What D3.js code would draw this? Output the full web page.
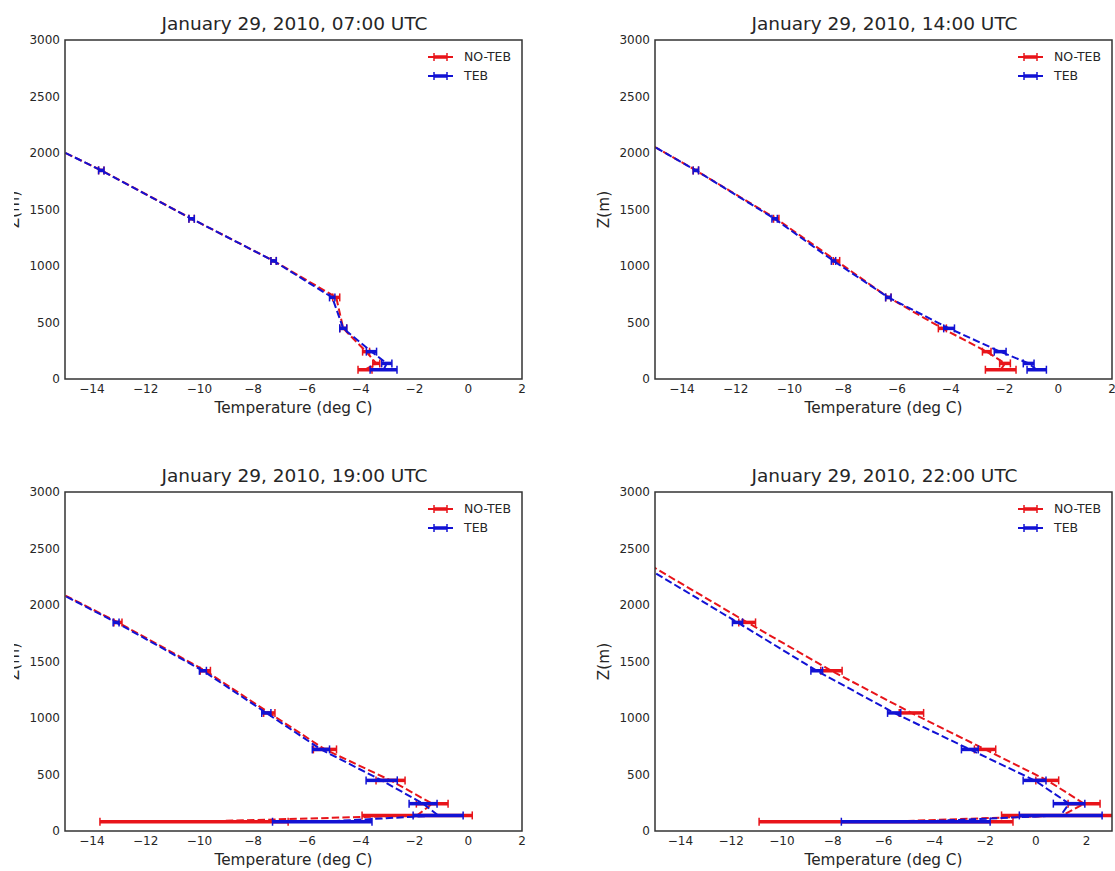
<!DOCTYPE html>
<html><head><meta charset="utf-8">
<script src="https://cdn.jsdelivr.net/npm/d3@7"></script>
<style>body{margin:0;background:#fff}svg{display:block}text{font-family:"DejaVu Sans",sans-serif;fill:#262626}</style>
</head><body>
<svg id="c" width="1115" height="871"></svg>
<script>
// Heights (m) of the profile levels
const heights = [82, 138, 242, 448, 722, 1045, 1418, 1846, 2500];
const titles = ["January 29, 2010, 07:00 UTC","January 29, 2010, 14:00 UTC","January 29, 2010, 19:00 UTC","January 29, 2010, 22:00 UTC"];
const seriesNames = ["NO-TEB","TEB"];
const xTicks = [-14,-12,-10,-8,-6,-4,-2,0,2];
const yTicks = [0,500,1000,1500,2000,2500,3000];
const xMax = [2, 2, 2, 3];

// 07:00
const noteb07 = [-3.84, -3.42, -3.8, -4.65, -4.91, -7.24, -10.29, -13.65, -19.3];
const noteb07Err = [0.26, 0.13, 0.13, 0.13, 0.13, 0.1, 0.1, 0.1, 0.1];
const teb07 = [-3.15, -3.03, -3.6, -4.65, -5.06, -7.24, -10.29, -13.65, -19.3];
const teb07Err = [0.5, 0.19, 0.19, 0.13, 0.1, 0.1, 0.1, 0.1, 0.1];
// 14:00
const noteb14 = [-2.14, -1.98, -2.66, -4.31, -6.32, -8.25, -10.49, -13.48, -18.3];
const noteb14Err = [0.57, 0.2, 0.16, 0.15, 0.1, 0.12, 0.1, 0.1, 0.1];
const teb14 = [-0.8, -1.1, -2.16, -4.06, -6.32, -8.36, -10.55, -13.48, -18.3];
const teb14Err = [0.36, 0.2, 0.22, 0.2, 0.1, 0.08, 0.1, 0.1, 0.1];
// 19:00
const noteb19 = [-10.2, -1.9, -1.34, -2.89, -5.33, -7.4, -9.78, -13.03, -18.4];
const noteb19Err = [3.5, 2.05, 0.59, 0.54, 0.43, 0.21, 0.19, 0.15, 0.15];
const teb19 = [-5.43, -1.12, -1.68, -3.22, -5.48, -7.51, -9.87, -13.1, -18.4];
const teb19Err = [1.85, 0.93, 0.52, 0.58, 0.32, 0.17, 0.13, 0.11, 0.15];
// 22:00
const noteb22 = [-5.9, 1.05, 1.9, 0.45, -2.0, -4.9, -8.05, -11.37, -16.3];
const noteb22Err = [5.0, 2.4, 0.63, 0.45, 0.42, 0.48, 0.42, 0.33, 0.3];
const teb22 = [-4.73, 0.98, 1.31, -0.05, -2.6, -5.58, -8.63, -11.75, -16.6];
const teb22Err = [2.93, 1.63, 0.62, 0.45, 0.33, 0.26, 0.23, 0.2, 0.2];

const panelData = [
  [[noteb07, noteb07Err],[teb07, teb07Err]],
  [[noteb14, noteb14Err],[teb14, teb14Err]],
  [[noteb19, noteb19Err],[teb19, teb19Err]],
  [[noteb22, noteb22Err],[teb22, teb22Err]]
];
const colors = ["#e8141a", "#1212d4"];

const svg = d3.select("#c");
const W = 457, H = 339;
const origins = [[65,40],[655,40],[65,492],[655,492]];

svg.append("clipPath").attr("id","ylc").append("rect").attr("x",14).attr("y",0).attr("width",100).attr("height",871);

origins.forEach(([L,T], i) => {
  const x = d3.scaleLinear().domain([-15, xMax[i]]).range([L, L+W]);
  const y = d3.scaleLinear().domain([0, 3000]).range([T+H, T]);
  const g = svg.append("g");
  const cid = "clip"+i;
  svg.append("clipPath").attr("id", cid).append("rect").attr("x",L).attr("y",T).attr("width",W).attr("height",H);
  const plot = g.append("g").attr("clip-path", `url(#${cid})`);

  panelData[i].forEach(([vals, errs], s) => {
    const pts = vals.map((v,k)=>({t:v, e:errs[k], z:heights[k]}));
    const line = d3.line().x(d=>x(d.t)).y(d=>y(d.z));
    plot.append("path").datum(pts).attr("d", line).attr("fill","none")
      .attr("stroke", colors[s]).attr("stroke-width", 2).attr("stroke-dasharray","7.4,3.2");
    const eb = plot.append("g").selectAll("g").data(pts).join("g");
    eb.append("line").attr("x1",d=>x(d.t-d.e)).attr("x2",d=>x(d.t+d.e))
      .attr("y1",d=>y(d.z)).attr("y2",d=>y(d.z)).attr("stroke",colors[s]).attr("stroke-width",3.5);
    [-1,1].forEach(sg=>{
      eb.append("line").attr("x1",d=>x(d.t+sg*d.e)).attr("x2",d=>x(d.t+sg*d.e))
        .attr("y1",d=>y(d.z)-4).attr("y2",d=>y(d.z)+4).attr("stroke",colors[s]).attr("stroke-width",1.5);
    });
  });

  // frame
  g.append("rect").attr("x",L).attr("y",T).attr("width",W).attr("height",H)
    .attr("fill","none").attr("stroke","#333").attr("stroke-width",1.5);

  // tick labels (no tick marks)
  g.append("g").selectAll("text").data(xTicks).join("text")
    .attr("x",d=>x(d)).attr("y",T+H+14).attr("text-anchor","middle")
    .attr("font-size",12).text(d=>d3.format("")(d));
  g.append("g").selectAll("text").data(yTicks).join("text")
    .attr("x",L-5).attr("y",d=>y(d)).attr("dy","0.35em").attr("text-anchor","end")
    .attr("font-size",12).text(d=>d);

  g.append("text").attr("x",L+W/2).attr("y",T+H+34).attr("text-anchor","middle")
    .attr("font-size",15.3).text("Temperature (deg C)");
  g.append("text").attr("x",L+W/2+1).attr("y",T-10).attr("text-anchor","middle")
    .attr("font-size",18.5).text(titles[i]);

  // y label
  const yg = g.append("g");
  if (L < 100) yg.attr("clip-path","url(#ylc)");
  yg.append("text").attr("transform",`translate(${L-46},${T+H/2}) rotate(-90)`)
    .attr("text-anchor","middle").attr("font-size",15.3).text("Z(m)");

  // legend
  const R = L+W;
  seriesNames.forEach((nm, s) => {
    const ly = T+17+s*19;
    const lg = g.append("g");
    lg.append("line").attr("x1",R-94).attr("x2",R-69).attr("y1",ly).attr("y2",ly)
      .attr("stroke",colors[s]).attr("stroke-width",2);
    lg.append("line").attr("x1",R-88).attr("x2",R-75).attr("y1",ly).attr("y2",ly)
      .attr("stroke",colors[s]).attr("stroke-width",3.5);
    [R-88,R-75].forEach(cx=>lg.append("line").attr("x1",cx).attr("x2",cx).attr("y1",ly-4).attr("y2",ly+4)
      .attr("stroke",colors[s]).attr("stroke-width",1.5));
    lg.append("text").attr("x",R-58).attr("y",ly).attr("dy","0.35em").attr("font-size",12.5).text(nm);
  });
});
</script>
</body></html>
